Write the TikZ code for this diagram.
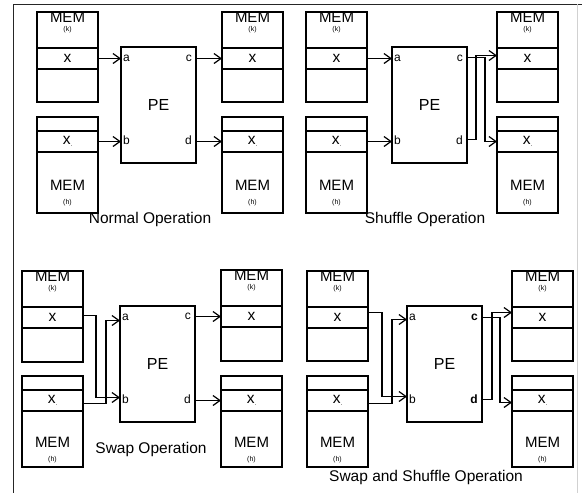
\documentclass[tikz,border=0pt]{standalone}
\usepackage{fontspec}
\setmainfont{Liberation Sans}
\usetikzlibrary{arrows.meta,calc}

\tikzset{
  x=1pt, y=-1pt,
  frame/.style={line width=0.9pt, draw=black!85},
  edge/.style={line width=0.9pt, draw=black!18},
  membox/.style={draw, line width=1.2pt, minimum width=61pt, inner sep=0pt, outer sep=0pt},
  memrow/.style={draw, line width=1.2pt, minimum width=61pt, minimum height=21pt, inner sep=0pt, outer sep=0pt, font=\fontsize{15.5}{15.5}\selectfont},
  pebox/.style={draw, line width=1.2pt, minimum width=75pt, minimum height=116pt, inner sep=0pt, outer sep=0pt, font=\fontsize{16}{16}\selectfont},
  memlbl/.style={inner sep=0pt, font=\fontsize{15}{15}\selectfont},
  idx/.style={inner sep=0pt, font=\fontsize{7}{7}\selectfont},
  port/.style={inner sep=0pt, font=\fontsize{12}{12}\selectfont},
  caption/.style={inner sep=0pt, font=\fontsize{15.5}{15.5}\selectfont},
  wire/.style={line width=1.2pt, -{Straight Barb[length=7pt,width=10pt]}},
}

\newcommand\lowdot{\raisebox{-1.5pt}{\fontsize{6}{6}\selectfont.}}

% memory bank k: data cell in the upper part, title on top
\newcommand\memk[4]{% name, left, top, height
  \node[membox, minimum height=#4pt, anchor=north west] (#1) at (#2,#3) {};
  \node[memrow, anchor=north west] (#1x) at (#2,#3+36) {x};
  \node[memlbl] (#1t) at ($(#1.north)+(0,5.5)$) {MEM};
  \node[idx] (#1i) at ($(#1.north)+(0,17.5)$) {(k)};
}
% memory bank h: data cell near the top, title at the bottom
\newcommand\memh[5]{% name, left, top, height, title offset
  \node[membox, minimum height=#4pt, anchor=north west] (#1) at (#2,#3) {};
  \node[memrow, anchor=north west] (#1x) at (#2,#3+14) {x\lowdot};
  \node[memlbl] (#1t) at ($(#1.north)+(0,#5)$) {MEM};
  \node[idx] (#1i) at ($(#1.north)+(0,#5+17.5)$) {(h)};
}
% processing element with its four port letters
\newcommand\pe[6]{% prefix, left, top, left banks, right banks, port font
  \node[pebox, anchor=north west] (#1pe) at (#2,#3) {PE};
  \node[port, anchor=base west] (#1pa) at ($(#1pe.west |- #4kx.east)+(2,3)$) {a};
  \node[port, anchor=base west] (#1pb) at ($(#1pe.west |- #4hx.east)+(2,3)$) {b};
  \node[port, anchor=base east] (#1pc) at ($(#1pe.east |- #5kx.west)+(-4,3)$) {#6c};
  \node[port, anchor=base east] (#1pd) at ($(#1pe.east |- #5hx.west)+(-4,3)$) {#6d};
}

\begin{document}
\begin{tikzpicture}
\useasboundingbox (0,0) rectangle (582,493);
\fill[white] (0,0) rectangle (582,493);

% outer frame
\coordinate (fbl) at (13,493);
\coordinate (ftl) at (13,4);
\coordinate (ftr) at (582,4);
\coordinate (ert) at (577,4);
\coordinate (erb) at (577,493);
\draw[frame] (fbl) -- (ftl) -- (ftr);
\draw[edge] (ert) -- (erb);

% ---------- normal operation ----------
\memk{q1lk}{37}{12}{90}
\memh{q1lh}{37}{117}{96}{68}
\memk{q1rk}{222}{12}{90}
\memh{q1rh}{222}{117}{96}{68}
\pe{q1}{121}{47}{q1l}{q1r}{}
\draw[wire] (q1lkx.east) -- (q1pe.west |- q1lkx.east);
\draw[wire] (q1lhx.east) -- (q1pe.west |- q1lhx.east);
\draw[wire] (q1pe.east |- q1rkx.west) -- (q1rkx.west);
\draw[wire] (q1pe.east |- q1rhx.west) -- (q1rhx.west);
\node[caption] (q1cap) at (150,219) {Normal Operation};

% ---------- shuffle operation ----------
\memk{q2lk}{306}{12}{90}
\memh{q2lh}{306}{117}{96}{68}
\memk{q2rk}{497}{12}{90}
\memh{q2rh}{497}{117}{96}{68}
\pe{q2}{392}{47}{q2l}{q2r}{}
\draw[wire] (q2lkx.east) -- (q2pe.west |- q2lkx.east);
\draw[wire] (q2lhx.east) -- (q2pe.west |- q2lhx.east);
\coordinate (q2j1) at (476,0);
\coordinate (q2j2) at (485,0);
\coordinate (q2oc) at ($(q2pe.east |- q2rkx.west)+(0,-1)$);
\coordinate (q2od) at ($(q2pe.east |- q2rhx.west)+(0,-2)$);
\coordinate (q2ik) at ($(q2rkx.west)+(0,-3)$);
\coordinate (q2ih) at ($(q2rhx.west)+(0,0)$);
\draw[wire] (q2oc) -| (q2j2 |- q2ih) -- (q2ih);
\draw[wire] (q2od) -| (q2j1 |- q2ik) -- (q2ik);
\node[caption] (q2cap) at (425,219) {Shuffle Operation};

% ---------- swap operation ----------
\memk{q3lk}{22}{271}{91}
\memh{q3lh}{22}{376}{91}{66}
\memk{q3rk}{221}{270}{91}
\memh{q3rh}{221}{376}{91}{66}
\pe{q3}{120}{306}{q3l}{q3r}{}
\coordinate (q3j1) at (96,0);
\coordinate (q3j2) at (106,0);
\coordinate (q3ok) at ($(q3lkx.east)+(0,-2)$);
\coordinate (q3oh) at ($(q3lhx.east)+(0,3)$);
\coordinate (q3ia) at ($(q3pe.west |- q3lkx.east)+(0,3)$);
\coordinate (q3ib) at ($(q3pe.west |- q3lhx.east)+(0,-3)$);
\draw[wire] (q3ok) -| (q3j1 |- q3ib) -- (q3ib);
\draw[wire] (q3oh) -| (q3j2 |- q3ia) -- (q3ia);
\draw[wire] (q3pe.east |- q3rkx.west) -- (q3rkx.west);
\draw[wire] (q3pe.east |- q3rhx.west) -- (q3rhx.west);
\node[caption] (q3cap) at (151,449) {Swap Operation};

% ---------- swap and shuffle operation ----------
\memk{q4lk}{307}{271}{90}
\memh{q4lh}{307}{376}{91}{66}
\memk{q4rk}{512}{271}{90}
\memh{q4rh}{512}{376}{91}{66}
\pe{q4}{407}{306}{q4l}{q4r}{\bfseries}
\coordinate (q4j1) at (382,0);
\coordinate (q4j2) at (392,0);
\coordinate (q4ok) at ($(q4lkx.east)+(0,-5)$);
\coordinate (q4oh) at ($(q4lhx.east)+(0,3)$);
\coordinate (q4ia) at ($(q4pe.west |- q4lkx.east)+(0,2)$);
\coordinate (q4ib) at ($(q4pe.west |- q4lhx.east)+(0,-4)$);
\draw[wire] (q4ok) -| (q4j1 |- q4ib) -- (q4ib);
\draw[wire] (q4oh) -| (q4j2 |- q4ia) -- (q4ia);
\coordinate (q4j3) at (492,0);
\coordinate (q4j4) at (500,0);
\coordinate (q4oc) at ($(q4pe.east |- q4rkx.west)+(0,0)$);
\coordinate (q4od) at ($(q4pe.east |- q4rhx.west)+(0,-1)$);
\coordinate (q4ik) at ($(q4rkx.west)+(0,-5)$);
\coordinate (q4ih) at ($(q4rhx.west)+(0,2)$);
\draw[wire] (q4oc) -| (q4j4 |- q4ih) -- (q4ih);
\draw[wire] (q4od) -| (q4j3 |- q4ik) -- (q4ik);
\node[caption] (q4cap) at (426,477) {Swap and Shuffle Operation};
\end{tikzpicture}
\end{document}
